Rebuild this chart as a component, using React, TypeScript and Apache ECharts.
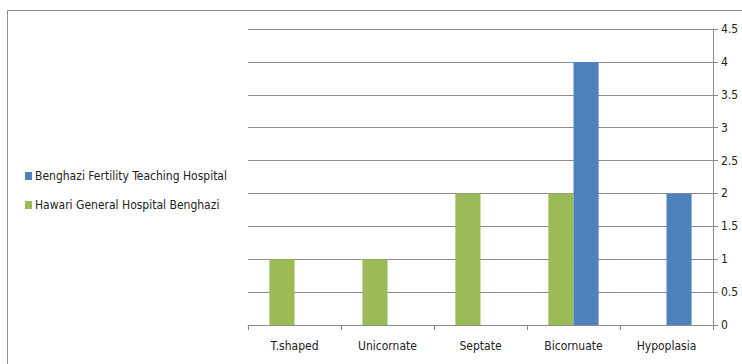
import React, { useEffect, useRef } from "react";
import * as echarts from "echarts";

const categories = ["T.shaped", "Unicornate", "Septate", "Bicornuate", "Hypoplasia"];
const benghaziFertility = [0, 0, 0, 4, 2];
const hawariGeneral = [1, 1, 2, 2, 0];
const seriesNames = ["Benghazi Fertility Teaching Hospital", "Hawari General Hospital Benghazi"];

const FONT = "'Liberation Sans Narrow', 'DejaVu Sans Condensed', 'Open Sans', sans-serif";

export default function App() {
  const ref = useRef<HTMLDivElement>(null);
  useEffect(() => {
    const chart = echarts.init(ref.current!, null, { renderer: "svg" });
    chart.setOption({
      animation: false,
      backgroundColor: "#ffffff",
      textStyle: { fontFamily: FONT },
      graphic: [
        { type: "line", shape: { x1: 7.5, y1: 10.5, x2: 742, y2: 10.5 }, style: { stroke: "#8c8c8c", lineWidth: 1 } },
        { type: "line", shape: { x1: 7.5, y1: 10.5, x2: 7.5, y2: 364 }, style: { stroke: "#8c8c8c", lineWidth: 1 } },
      ],
      legend: {
        orient: "vertical",
        left: 20,
        top: 165,
        itemGap: 17,
        itemWidth: 7,
        itemHeight: 8,
        icon: "rect",
        data: seriesNames,
        textStyle: { fontFamily: FONT, fontSize: 12, color: "#222", padding: [0, 0, 0, -2] },
      },
      grid: { left: 248, right: 742 - 713, top: 29, bottom: 364 - 325, containLabel: false },
      xAxis: {
        type: "category",
        data: categories,
        axisLine: { lineStyle: { color: "#8c8c8c" } },
        axisTick: { show: true, length: 5, lineStyle: { color: "#8c8c8c" } },
        axisLabel: { color: "#222", fontSize: 12, fontFamily: FONT, margin: 15 },
      },
      yAxis: {
        type: "value",
        position: "right",
        min: 0,
        max: 4.5,
        interval: 0.5,
        axisLine: { show: true, lineStyle: { color: "#8c8c8c" } },
        axisTick: { show: true, length: 5, lineStyle: { color: "#8c8c8c" } },
        axisLabel: { color: "#222", fontSize: 12, fontFamily: FONT, margin: 8 },
        splitLine: { lineStyle: { color: "#8c8c8c", width: 1 } },
      },
      series: [
        {
          name: seriesNames[1],
          type: "bar",
          data: hawariGeneral,
          itemStyle: { color: "#9BBB59" },
          barGap: "0%",
          barCategoryGap: "46%",
        },
        {
          name: seriesNames[0],
          type: "bar",
          data: benghaziFertility,
          itemStyle: { color: "#4F81BD" },
          barGap: "0%",
          barCategoryGap: "46%",
        },
      ],
    });
    return () => chart.dispose();
  }, []);
  return <div ref={ref} style={{ width: 742, height: 364, position: "absolute", left: 0, top: 0 }} />;
}
